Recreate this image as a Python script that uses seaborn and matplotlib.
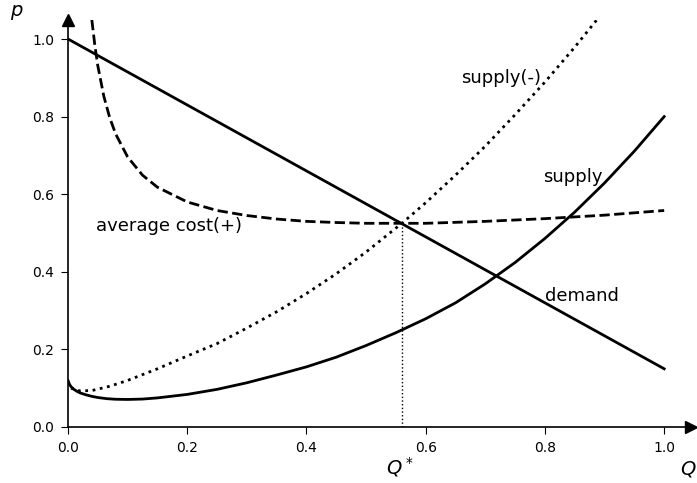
import matplotlib
matplotlib.use("Agg")
import matplotlib.pyplot as plt
import seaborn as sns

# === Curves ===
demand_q = [0.0, 1.0]
demand_p = [1.0, 0.15]

supply_q = [0.0, 0.0025, 0.005, 0.01, 0.015, 0.02, 0.03, 0.04, 0.05, 0.065, 0.08, 0.1,
            0.125, 0.15, 0.2, 0.25, 0.3, 0.35, 0.4, 0.45, 0.5, 0.55, 0.6, 0.65, 0.7,
            0.75, 0.8, 0.85, 0.9, 0.95, 1.0]
supply_p = [0.12, 0.11, 0.104, 0.097, 0.092, 0.088, 0.083, 0.079, 0.076, 0.073, 0.0715,
            0.071, 0.072, 0.075, 0.084, 0.097, 0.114, 0.134, 0.155, 0.18, 0.21, 0.243,
            0.279, 0.32, 0.369, 0.424, 0.486, 0.554, 0.629, 0.711, 0.8]

supply_minus_q = [0.005, 0.02, 0.04, 0.07, 0.1, 0.15, 0.2, 0.25, 0.3, 0.35, 0.4, 0.45,
                  0.5, 0.56, 0.6, 0.65, 0.7, 0.75, 0.8, 0.85, 0.9]
supply_minus_p = [0.10, 0.093, 0.094, 0.105, 0.12, 0.15, 0.183, 0.215, 0.255, 0.297,
                  0.344, 0.395, 0.451, 0.525, 0.578, 0.649, 0.724, 0.805, 0.889, 0.979, 1.074]

avg_cost_q = [0.04, 0.045, 0.05, 0.06, 0.07, 0.08, 0.1, 0.125, 0.15, 0.2, 0.25, 0.3,
              0.35, 0.4, 0.45, 0.5, 0.56, 0.6, 0.7, 0.8, 0.9, 1.0]
avg_cost_p = [1.049, 0.984, 0.931, 0.853, 0.797, 0.755, 0.696, 0.649, 0.618, 0.580,
              0.558, 0.545, 0.536, 0.530, 0.527, 0.525, 0.525, 0.525, 0.530, 0.537,
              0.546, 0.558]

q_star = 0.56
p_star = 0.525

fig = plt.figure(figsize=(6.97, 4.83), dpi=100)
ax = fig.add_axes([68 / 697, 56 / 483, 623 / 697, 407.4 / 483])

sns.lineplot(x=demand_q, y=demand_p, ax=ax, color="black", linewidth=2)
sns.lineplot(x=supply_q, y=supply_p, ax=ax, color="black", linewidth=2)
sns.lineplot(x=supply_minus_q, y=supply_minus_p, ax=ax, color="black",
             linewidth=2, linestyle=":")
sns.lineplot(x=avg_cost_q, y=avg_cost_p, ax=ax, color="black",
             linewidth=2, linestyle="--")
ax.plot([q_star, q_star], [0, p_star], color="black", linewidth=1, linestyle=":")

ax.set_xlim(0, 1.045)
ax.set_ylim(0, 1.05)
ax.set_xticks([0.0, 0.2, 0.4, 0.6, 0.8, 1.0])
ax.set_yticks([0.0, 0.2, 0.4, 0.6, 0.8, 1.0])
ax.tick_params(labelsize=10, length=5, pad=5)
sns.despine(ax=ax)
for s in ["left", "bottom"]:
    ax.spines[s].set_linewidth(1.2)

# arrow heads on the axes
ax.plot(1, 0, ">k", markersize=9, transform=ax.transAxes, clip_on=False)
ax.plot(0, 1, "^k", markersize=9, transform=ax.transAxes, clip_on=False)

fs = 13
ax.text(0.66, 0.9, "supply(-)", fontsize=fs, va="center")
ax.text(0.797, 0.644, "supply", fontsize=fs, va="center")
ax.text(0.80, 0.337, "demand", fontsize=fs, va="center")
ax.text(0.047, 0.517, "average cost(+)", fontsize=fs, va="center")

fig.text(17 / 697, 1 - 12 / 483, "$p$", fontsize=14, ha="center", va="center")
fig.text(688 / 697, 1 - 469 / 483, "$Q$", fontsize=14, ha="center", va="center")
fig.text(400 / 697, 1 - 467 / 483, "$Q^*$", fontsize=14, ha="center", va="center")

fig.savefig("out.png", dpi=100)
